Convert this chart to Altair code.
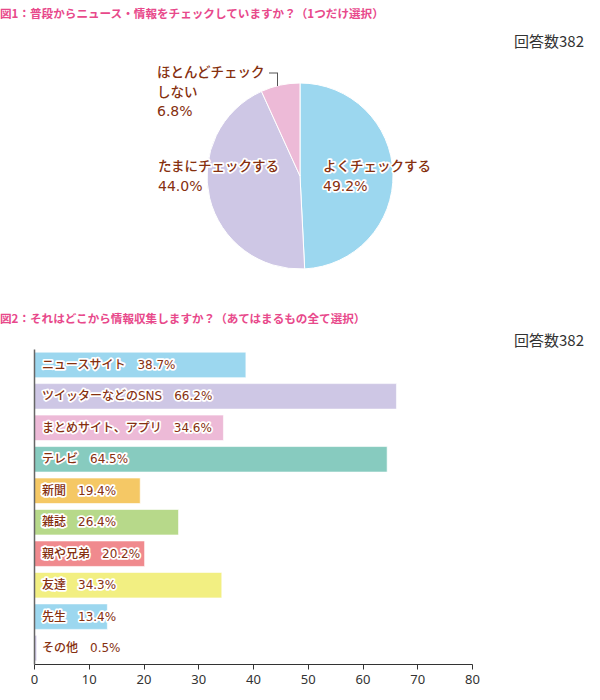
import altair as alt
import pandas as pd

# ---------------- data ----------------
title1 = "図1：普段からニュース・情報をチェックしていますか？（1つだけ選択）"
title2 = "図2：それはどこから情報収集しますか？（あてはまるもの全て選択）"
n_label = "回答数382"

pie_cats = ["よくチェックする", "たまにチェックする", "ほとんどチェックしない"]
pie_label_lines = [["よくチェックする"], ["たまにチェックする"], ["ほとんどチェック", "しない"]]
pie_vals = [49.2, 44.0, 6.8]
pie_colors = ["#9CD7EF", "#CEC7E5", "#EDBAD7"]

bar_cats = ["ニュースサイト", "ツイッターなどのSNS", "まとめサイト、アプリ", "テレビ", "新聞",
            "雑誌", "親や兄弟", "友達", "先生", "その他"]
bar_vals = [38.7, 66.2, 34.6, 64.5, 19.4, 26.4, 20.2, 34.3, 13.4, 0.5]
bar_colors = ["#9CD7EF", "#CEC7E5", "#EDBAD7", "#87CBBF", "#F5C865",
              "#B7D98A", "#F08A8E", "#F2EF82", "#9CD7EF", "#CEC7E5"]
x_ticks = [0, 10, 20, 30, 40, 50, 60, 70, 80]

# ---------------- styles ----------------
JP = "Noto Sans CJK JP, Noto Sans, sans-serif"
MIX = "DejaVu Sans, Noto Sans CJK JP, sans-serif"
PINK = "#E8498B"
BROWN = "#86300F"
GRAY = "#333333"


def txt(text, x, y, size, color, font=JP, weight="normal", align="left", halo=False):
    base = alt.Chart(pd.DataFrame({"t": [text]})).encode(
        text="t:N", x=alt.value(x), y=alt.value(y))
    out = []
    if halo:
        out.append(base.mark_text(align=align, baseline="middle", fontSize=size, font=font,
                                  fontWeight=weight, fill="white", stroke="white",
                                  strokeWidth=3.5, strokeJoin="round"))
    out.append(base.mark_text(align=align, baseline="middle", fontSize=size, font=font,
                              fontWeight=weight, fill=color))
    return out


layers = []

# titles
layers += txt(title1, 0, 15, 11.6, PINK, weight="bold")
layers += txt(n_label, 584, 42, 15, GRAY, align="right")
layers += txt(title2, 0, 320, 11.6, PINK, weight="bold")
layers += txt(n_label, 584, 341, 15, GRAY, align="right")

# pie
pie_df = pd.DataFrame({"cat": pie_cats, "v": pie_vals, "color": pie_colors,
                       "o": list(range(len(pie_cats)))})
pie = alt.Chart(pie_df).mark_arc(outerRadius=93, stroke="white", strokeWidth=1).encode(
    theta=alt.Theta("v:Q", stack=True),
    color=alt.Color("color:N", scale=None),
    order=alt.Order("o:Q"),
    x=alt.value(300), y=alt.value(176),
)
layers.append(pie)

# pie labels
pie_pos = [(323, 167), (158, 167), (157, 73)]
for lines, v, (px, py) in zip(pie_label_lines, pie_vals, pie_pos):
    for i, ln in enumerate(lines):
        layers += txt(ln, px, py + i * 19.5, 13.5, BROWN, font=JP, weight=500, halo=True)
    layers += txt(f"{v:.1f}%", px, py + len(lines) * 19.5, 14, BROWN, font="DejaVu Sans",
                  weight="normal", halo=True)

# connector for small slice
conn = pd.DataFrame({"a": [0]})
layers.append(alt.Chart(conn).mark_rule(color="#555", strokeWidth=1).encode(
    x=alt.value(269), x2=alt.value(278), y=alt.value(73)))
layers.append(alt.Chart(conn).mark_rule(color="#555", strokeWidth=1).encode(
    x=alt.value(277.5), y=alt.value(73), y2=alt.value(86)))

# bars
bar_df = pd.DataFrame({"cat": bar_cats, "v": bar_vals, "color": bar_colors})
bar_df["label"] = [f"{c}　{v}%" for c, v in zip(bar_cats, bar_vals)]

xscale = alt.Scale(domain=[0, 80], range=[34, 472], nice=False)
yscale = alt.Scale(domain=bar_cats, range=[349, 664], paddingInner=0.19, paddingOuter=0.1)
xaxis = alt.Axis(values=x_ticks, title=None, grid=False, labelFont="Noto Sans",
                 labelFontSize=13, labelColor=GRAY, tickColor=GRAY, domainColor=GRAY,
                 tickSize=5, labelPadding=4, domainWidth=1, labelFlush=False)
yaxis = alt.Axis(labels=False, ticks=False, title=None, grid=False, domainColor="#666",
                 domainWidth=1.5, offset=-34, zindex=1)

bars = alt.Chart(bar_df).mark_bar(stroke="white", strokeWidth=1, strokeOpacity=0.6).encode(
    x=alt.X("v:Q", scale=xscale, axis=xaxis),
    y=alt.Y("cat:N", scale=yscale, axis=yaxis),
    color=alt.Color("color:N", scale=None),
)
layers.append(bars)

lab_base = alt.Chart(bar_df).transform_calculate(z="0").encode(
    x=alt.X("z:Q", scale=xscale, axis=xaxis),
    y=alt.Y("cat:N", scale=yscale, axis=yaxis),
    text="label:N",
)
layers.append(lab_base.mark_text(align="left", baseline="middle", dx=8, fontSize=12, font=MIX,
                                 fontWeight=500, fill="white", stroke="white", strokeWidth=3.5,
                                 strokeJoin="round"))
layers.append(lab_base.mark_text(align="left", baseline="middle", dx=8, fontSize=12, font=MIX,
                                 fontWeight=500, fill=BROWN))

chart = alt.layer(*layers).properties(
    width=600, height=664,
    padding={"left": 0, "top": 0, "right": 0, "bottom": 36},
    autosize=alt.AutoSizeParams(type="none"),
).configure(background="white").configure_view(strokeWidth=0)

chart.save("out.html", embed_options={"renderer": "svg", "actions": False})
